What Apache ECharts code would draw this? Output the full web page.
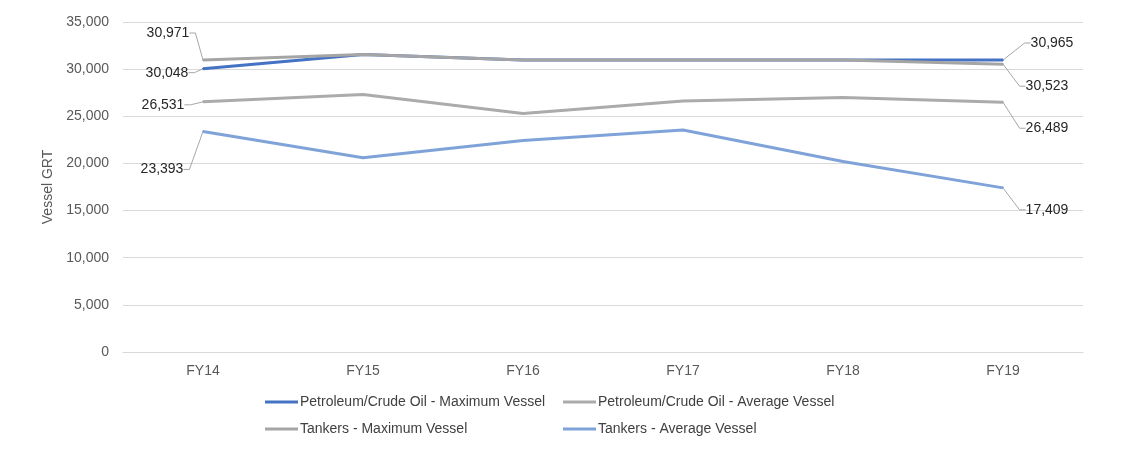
<!DOCTYPE html>
<html><head><meta charset="utf-8">
<script src="https://cdn.jsdelivr.net/npm/echarts@6/dist/echarts.min.js"></script>
<style>html,body{margin:0;padding:0;background:#fff}#c{width:1130px;height:456px}</style>
</head><body><div id="c"></div>
<script>
const categories = ['FY14','FY15','FY16','FY17','FY18','FY19'];
const petMax  = [30048, 31550, 30980, 30970, 30960, 30965];
const petAvg  = [26531, 27300, 25300, 26630, 27000, 26489];
const tankMax = [30971, 31550, 30980, 30970, 30960, 30523];
const tankAvg = [23393, 20600, 22420, 23550, 20200, 17409];
const yTicks = [0, 5000, 10000, 15000, 20000, 25000, 30000, 35000];

const names = ['Petroleum/Crude Oil - Maximum Vessel','Petroleum/Crude Oil - Average Vessel','Tankers - Maximum Vessel','Tankers - Average Vessel'];
const colors = ['#4472C4','#BDBDBD','#A5A5A5','#7FA3D8'];
const lineColors = ['#4472C4','#ABABAB','#A5A5A5','#7FA3D8'];
const values = [petMax, petAvg, tankMax, tankAvg];
// label offsets (first point, last point)
const offs = [
  [[-36, 4], [49, -17]],
  [[-40, 3], [44, 26]],
  [[-35, -27], [44, 22]],
  [[-41, 38], [44, 22]]
];
const fmt = v => v.toLocaleString('en-US');
const chart = echarts.init(document.getElementById('c'));
const series = values.map((arr, s) => ({
  name: names[s],
  type: 'line',
  data: arr.map((v, i) => ({value: v, label: {show: i === 0 || i === arr.length - 1}})),
  symbol: 'circle',
  symbolSize: 2,
  itemStyle: {color: lineColors[s]},
  lineStyle: {color: lineColors[s], width: 3},
  label: {position: 'inside', formatter: p => fmt(p.value), color: '#262626', fontSize: 14, fontFamily: 'Liberation Sans'},
  labelLine: {show: true, length2: 6, lineStyle: {color: '#A6A6A6', width: 1}},
  labelLayout: p => {
    const o = p.dataIndex === 0 ? offs[s][0] : offs[s][1];
    return {dx: o[0], dy: o[1]};
  },
  animation: false,
  z: 2 + s
}));
chart.setOption({
  animation: false,
  textStyle: {fontFamily: 'Liberation Sans'},
  color: colors,
  grid: {left: 123, right: 47, top: 22, bottom: 104},
  legend: [
    {data: [names[0], names[2]], left: 260, top: 390, orient: 'vertical', itemGap: 13, itemWidth: 33, itemHeight: 3, icon: 'rect',
     textStyle: {color: '#404040', fontSize: 14, padding: [0,0,0,-3]}},
    {data: [names[1], names[3]], left: 558, top: 390, orient: 'vertical', itemGap: 13, itemWidth: 33, itemHeight: 3, icon: 'rect',
     textStyle: {color: '#404040', fontSize: 14, padding: [0,0,0,-3]}}
  ],
  xAxis: {
    type: 'category', data: categories, boundaryGap: true,
    axisLine: {lineStyle: {color: '#D9D9D9'}}, axisTick: {show: false},
    axisLabel: {color: '#595959', fontSize: 14, margin: 12}
  },
  yAxis: {
    type: 'value', min: 0, max: 35000, interval: 5000,
    name: 'Vessel GRT', nameLocation: 'middle', nameGap: 62, nameRotate: 90,
    nameTextStyle: {color: '#595959', fontSize: 14},
    axisLine: {show: false}, axisTick: {show: false},
    axisLabel: {color: '#595959', fontSize: 14, margin: 14, formatter: v => yTicks.includes(v) ? fmt(v) : ''},
    splitLine: {lineStyle: {color: '#D9D9D9'}}
  },
  series: series
});
</script></body></html>
